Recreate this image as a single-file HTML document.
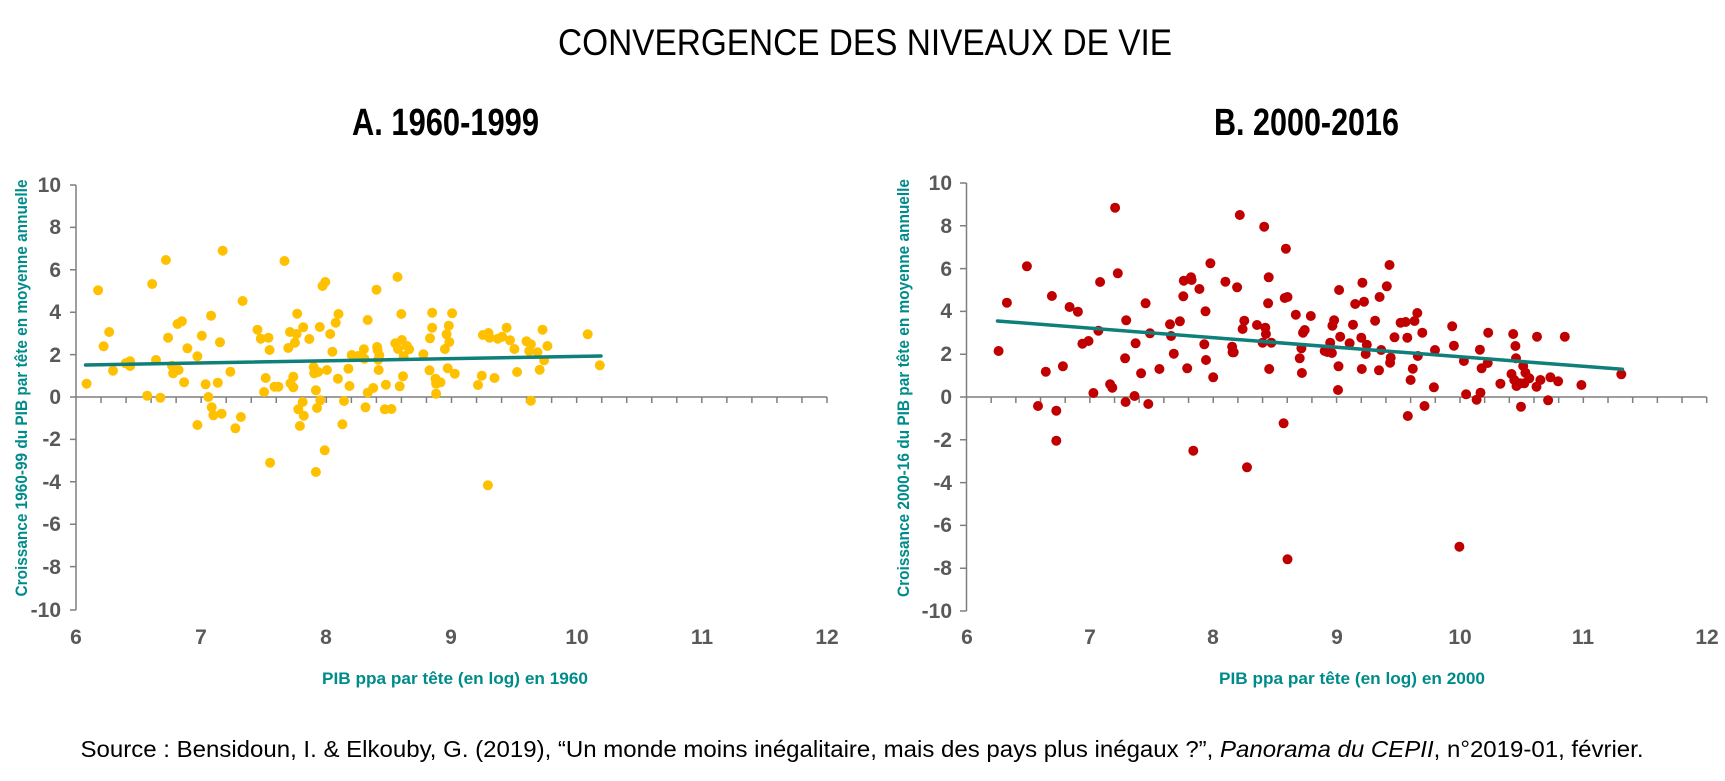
<!DOCTYPE html>
<html><head><meta charset="utf-8"><style>html,body{margin:0;padding:0;background:#fff}svg{display:block}</style></head>
<body>
<svg width="1725" height="781" viewBox="0 0 1725 781" xmlns="http://www.w3.org/2000/svg" font-family="'Liberation Sans Narrow','Liberation Sans',sans-serif">
<text x="558" y="55" font-size="37" textLength="614" lengthAdjust="spacingAndGlyphs" fill="#000">CONVERGENCE DES NIVEAUX DE VIE</text>
<text x="352" y="135" font-size="38" font-weight="bold" textLength="187" lengthAdjust="spacingAndGlyphs">A. 1960-1999</text>
<text x="1214" y="135" font-size="38" font-weight="bold" textLength="185" lengthAdjust="spacingAndGlyphs">B. 2000-2016</text>

<g stroke="#7f7f7f" stroke-width="1.5" fill="none">
<line x1="76" y1="185" x2="76" y2="610"/><line x1="76" y1="397" x2="827" y2="397"/>
<path d="M70 185H76M70 227.4H76M70 269.8H76M70 312.2H76M70 354.6H76M70 397H76M70 439.4H76M70 481.8H76M70 524.2H76M70 566.6H76M70 610H76"/>
<path id="mtL" d=""/>
</g>
<g stroke="#7f7f7f" stroke-width="1.5" fill="none">
<line x1="966.5" y1="183" x2="966.5" y2="611"/><line x1="966.5" y1="397" x2="1706.7" y2="397"/>
<path d="M960 183H966.5M960 225.8H966.5M960 268.6H966.5M960 311.4H966.5M960 354.2H966.5M960 397H966.5M960 439.8H966.5M960 482.6H966.5M960 525.4H966.5M960 568.2H966.5M960 611H966.5"/>
<path id="mtR" d=""/>
</g>

<g font-size="21" font-weight="bold" fill="#595959" text-anchor="end">
<text x="61" y="192">10</text><text x="61" y="234">8</text><text x="61" y="277">6</text><text x="61" y="319">4</text><text x="61" y="362">2</text><text x="61" y="404">0</text><text x="61" y="446">-2</text><text x="61" y="489">-4</text><text x="61" y="531">-6</text><text x="61" y="574">-8</text><text x="61" y="617">-10</text>
<text x="952" y="190">10</text><text x="952" y="233">8</text><text x="952" y="276">6</text><text x="952" y="318">4</text><text x="952" y="361">2</text><text x="952" y="404">0</text><text x="952" y="447">-2</text><text x="952" y="490">-4</text><text x="952" y="532">-6</text><text x="952" y="575">-8</text><text x="952" y="618">-10</text>
</g>
<g font-size="21" font-weight="bold" fill="#595959" text-anchor="middle">
<text x="76" y="644">6</text><text x="201" y="644">7</text><text x="326" y="644">8</text><text x="451" y="644">9</text><text x="577" y="644">10</text><text x="702" y="644">11</text><text x="827" y="644">12</text>
<text x="967" y="644">6</text><text x="1090" y="644">7</text><text x="1213" y="644">8</text><text x="1337" y="644">9</text><text x="1460" y="644">10</text><text x="1583" y="644">11</text><text x="1707" y="644">12</text>
</g>
<g font-size="17" font-weight="bold" fill="#008b8b" font-family="'Liberation Sans',sans-serif">
<text x="455" y="684" text-anchor="middle" textLength="266" lengthAdjust="spacingAndGlyphs">PIB ppa par tête (en log) en 1960</text>
<text x="1352" y="684" text-anchor="middle" textLength="266" lengthAdjust="spacingAndGlyphs">PIB ppa par tête (en log) en 2000</text>
<text transform="translate(27,388) rotate(-90)" text-anchor="middle" textLength="417" lengthAdjust="spacingAndGlyphs">Croissance 1960-99 du PIB par tête en moyenne annuelle</text>
<text transform="translate(909,388) rotate(-90)" text-anchor="middle" textLength="418" lengthAdjust="spacingAndGlyphs">Croissance 2000-16 du PIB par tête en moyenne annuelle</text>
</g>
<text x="862" y="757" text-anchor="middle" font-size="23" textLength="1563" lengthAdjust="spacingAndGlyphs" fill="#000">Source : Bensidoun, I. &amp; Elkouby, G. (2019), “Un monde moins inégalitaire, mais des pays plus inégaux ?”, <tspan font-style="italic">Panorama du CEPII</tspan>, n°2019-01, février.</text>

<g id="dl" fill="#FFC000"></g>
<g id="dr" fill="#C00000"></g>
<g stroke="#0f7f7a" stroke-width="3.5" stroke-linecap="round">
<line x1="85.5" y1="365" x2="601" y2="356"/>
<line x1="997.5" y1="321" x2="1622.4" y2="369.3"/>
</g>
<script>
var L=[[157,701],[178,421],[188,589],[198,546],[205,662],[228,640],[236,634],[236,648],[267,737],[276,402],[283,630],[291,743],[301,330],[305,563],[312,647],[314,670],[322,522],[324,660],[330,514],[334,697],[340,595],[358,619],[358,825],[366,557],[373,703],[378,741],[383,497],[384,772],[387,796],[395,698],[399,577],[402,791],[404,302],[418,665],[427,835],[437,801],[440,453],[467,539],[473,566],[479,726],[482,684],[487,563],[489,600],[490,938],[498,710],[505,710],[516,333],[523,594],[526,546],[527,700],[532,680],[532,712],[535,578],[538,552],[539,491],[541,778],[544,828],[549,756],[550,532],[551,797],[561,567],[569,651],[570,670],[573,966],[573,721],[575,774],[577,666],[580,531],[581,751],[585,408],[589,901],[590,396],[593,660],[599,552],[603,605],[609,518],[613,686],[614,492],[621,823],[624,753],[632,656],[634,708],[638,615],[650,618],[660,598],[661,626],[663,772],[667,510],[667,728],[677,714],[683,419],[684,591],[685,600],[686,629],[687,660],[688,616],[698,778],[700,704],[710,777],[717,580],[721,381],[722,597],[725,709],[728,492],[729,570],[732,619],[731,679],[738,588],[742,598],[768,613],[779,661],[780,565],[784,488],[784,533],[790,686],[791,731],[791,701],[799,697],[807,597],[810,553],[814,527],[815,576],[820,490],[825,671],[812,655],[867,705],[874,677],[876,555],[885,1006],[886,549],[888,563],[897,684],[903,566],[911,560],[919,533],[925,571],[933,597],[938,666],[955,574],[960,603],[963,583],[963,752],[975,607],[979,659],[984,539],[987,631],[993,588],[1066,553],[1088,646]];
var R=[[250,603],[265,458],[301,349],[321,768],[335,665],[346,438],[354,782],[354,872],[366,649],[378,471],[393,485],[401,581],[412,573],[421,729],[430,542],[433,396],[451,703],[455,713],[460,173],[465,370],[478,625],[479,756],[480,511],[495,738],[497,580],[507,670],[515,460],[520,762],[523,550],[540,657],[559,523],[561,558],[566,611],[577,514],[583,439],[584,392],[590,655],[597,382],[598,390],[601,902],[612,417],[621,583],[623,484],[624,630],[632,340],[637,682],[659,395],[671,590],[672,607],[674,607],[680,412],[685,195],[690,537],[693,512],[698,952],[716,525],[726,578],[729,230],[731,533],[732,552],[736,460],[737,382],[738,657],[742,578],[764,820],[766,444],[768,296],[771,441],[771,1228],[786,494],[793,625],[796,595],[797,669],[799,548],[802,540],[813,498],[838,603],[843,606],[848,578],[851,609],[852,527],[855,511],[862,720],[863,649],[864,420],[866,560],[883,580],[889,524],[893,462],[904,563],[905,657],[906,398],[909,455],[912,612],[914,584],[929,512],[936,661],[937,441],[940,600],[950,409],[955,345],[956,638],[957,623],[964,562],[975,518],[984,516],[987,563],[988,798],[993,690],[997,656],[1000,513],[1005,489],[1006,618],[1014,548],[1018,768],[1035,712],[1037,600],[1068,529],[1071,587],[1081,1190],[1089,633],[1093,733],[1112,749],[1118,599],[1119,728],[1121,655],[1132,639],[1133,548],[1155,701],[1175,672],[1178,552],[1180,690],[1182,588],[1183,625],[1184,708],[1190,700],[1192,770],[1196,648],[1198,700],[1200,668],[1207,685],[1220,710],[1221,560],[1227,690],[1241,751],[1245,682],[1259,694],[1271,560],[1301,705],[1373,673]];
var NS="http://www.w3.org/2000/svg";
function put(id,a,sx,ox){var g=document.getElementById(id);a.forEach(function(p){var c=document.createElementNS(NS,"circle");c.setAttribute("cx",(ox+p[0]*sx).toFixed(1));c.setAttribute("cy",(150+p[1]/3).toFixed(1));c.setAttribute("r","5");g.appendChild(c);});}
put("dl",L,0.5513,0);put("dr",R,0.5545,860);
var d="";for(var i=1;i<=30;i++){var x=76+i*751/30;d+="M"+x+" 397V403";}document.getElementById("mtL").setAttribute("d",d);
d="";for(var i=1;i<=30;i++){var x=966.5+i*740.2/30;d+="M"+x+" 397V403";}document.getElementById("mtR").setAttribute("d",d);
</script>
</svg>
</body></html>
